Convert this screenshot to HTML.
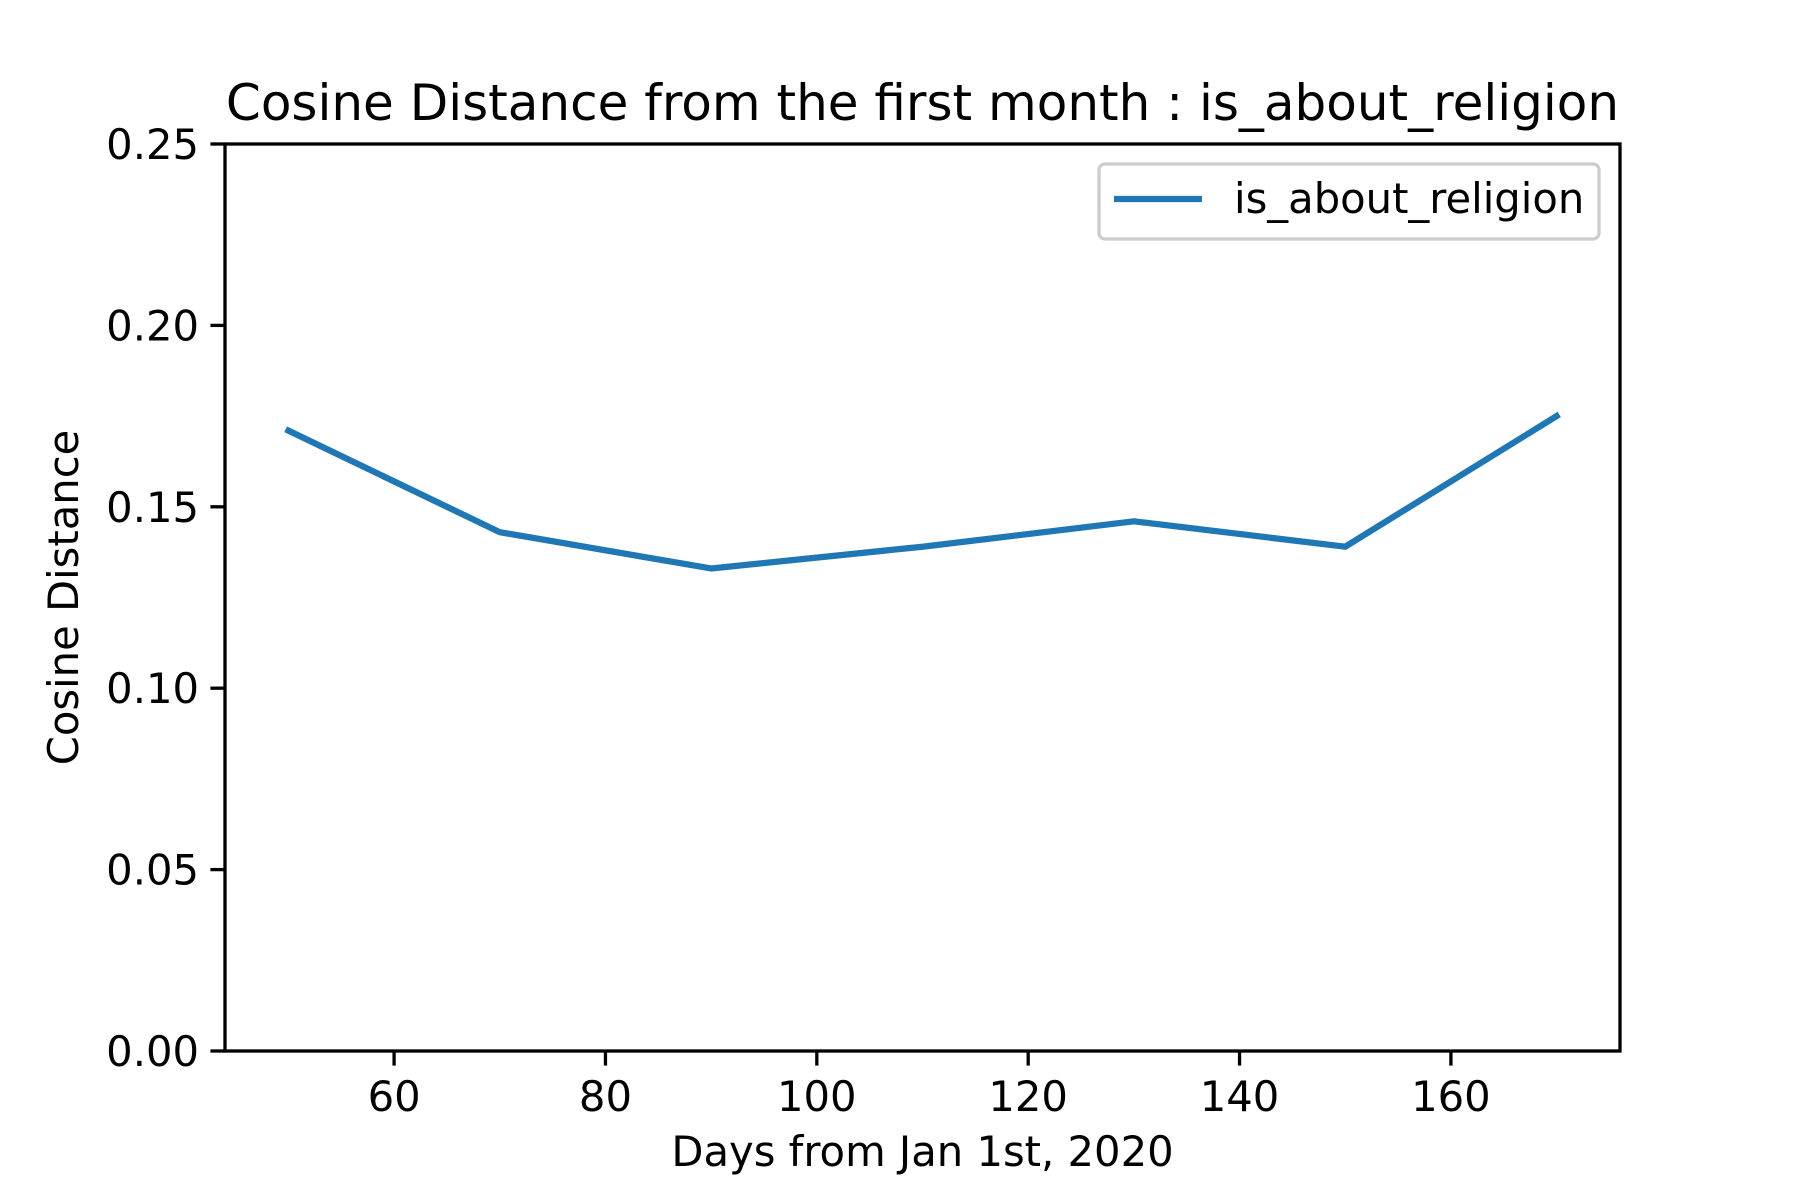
<!DOCTYPE html>
<html><head><meta charset="utf-8"><style>
html,body{margin:0;padding:0;background:#fff;}
svg{display:block;font-family:"DejaVu Sans","Liberation Sans",sans-serif;}
</style></head><body>
<svg id="chart" width="1800" height="1200" viewBox="0 0 1800 1200">
<rect width="1800" height="1200" fill="#fff"/>
<g id="plot"></g>
</svg>
<script>
const xValues = [50, 70, 90, 110, 130, 150, 170];
const yValues = [0.171, 0.143, 0.133, 0.139, 0.146, 0.139, 0.175];
const xTicks = [60, 80, 100, 120, 140, 160];
const yTicks = [0.00, 0.05, 0.10, 0.15, 0.20, 0.25];
const seriesName = "is_about_religion";

const L=225,R=1620,T=144,B=1051;
const xMin=44,xMax=176,yMin=0,yMax=0.25;
function sx(v){return L+(v-xMin)/(xMax-xMin)*(R-L);}
function sy(v){return B-(v-yMin)/(yMax-yMin)*(B-T);}
const NS="http://www.w3.org/2000/svg";
const g=document.getElementById('plot');
function mk(tag,attrs,parent){const e=document.createElementNS(NS,tag);for(const k in attrs)e.setAttribute(k,attrs[k]);(parent||g).appendChild(e);return e;}

let t=mk('text',{x:(L+R)/2,y:120,'text-anchor':'middle','font-size':'50'});
t.textContent="Cosine Distance from the first month : is_about_religion";



let pts=xValues.map((x,i)=>sx(x)+','+sy(yValues[i])).join(' ');
let pl=mk('polyline',{points:pts,fill:'none',stroke:'#1f77b4','stroke-width':'6.25','stroke-linejoin':'round','stroke-linecap':'square'});



xTicks.forEach(v=>{
  const x=sx(v);
  let l=mk('line',{x1:x,x2:x,y1:B,y2:B+14.6,stroke:'#000','stroke-width':'3.3'});
  
  
  let tx=mk('text',{x:x,y:B+60,'text-anchor':'middle','font-size':'41.7'});
  tx.textContent=String(v);
  
  
});
yTicks.forEach(v=>{
  const y=sy(v);
  let l=mk('line',{x1:L-14.6,x2:L,y1:y,y2:y,stroke:'#000','stroke-width':'3.3'});
  
  
  let tx=mk('text',{x:L-26,y:y+15,'text-anchor':'end','font-size':'41.7'});
  tx.textContent=v.toFixed(2);
  
  
});

let fr=mk('rect',{x:L,y:T,width:R-L,height:B-T,fill:'none',stroke:'#000','stroke-width':'3.3'});



let xl=mk('text',{x:(L+R)/2,y:1166,'text-anchor':'middle','font-size':'41.7'});
xl.textContent="Days from Jan 1st, 2020";


let yl=mk('text',{x:0,y:0,'text-anchor':'middle','font-size':'41.7',transform:'translate(78,'+((T+B)/2)+') rotate(-90)'});
yl.textContent="Cosine Distance";



let lg=mk('g',{});


mk('rect',{x:1099,y:164,width:500,height:75,rx:6,fill:'#fff',stroke:'#ccc','stroke-width':'3.3','fill-opacity':'0.8'},lg);
mk('line',{x1:1114,x2:1202,y1:199,y2:199,stroke:'#1f77b4','stroke-width':'6.25'},lg);
let lt=mk('text',{x:1234,y:213,'font-size':'41.7'},lg);
lt.textContent=seriesName;


</script>
</body></html>
